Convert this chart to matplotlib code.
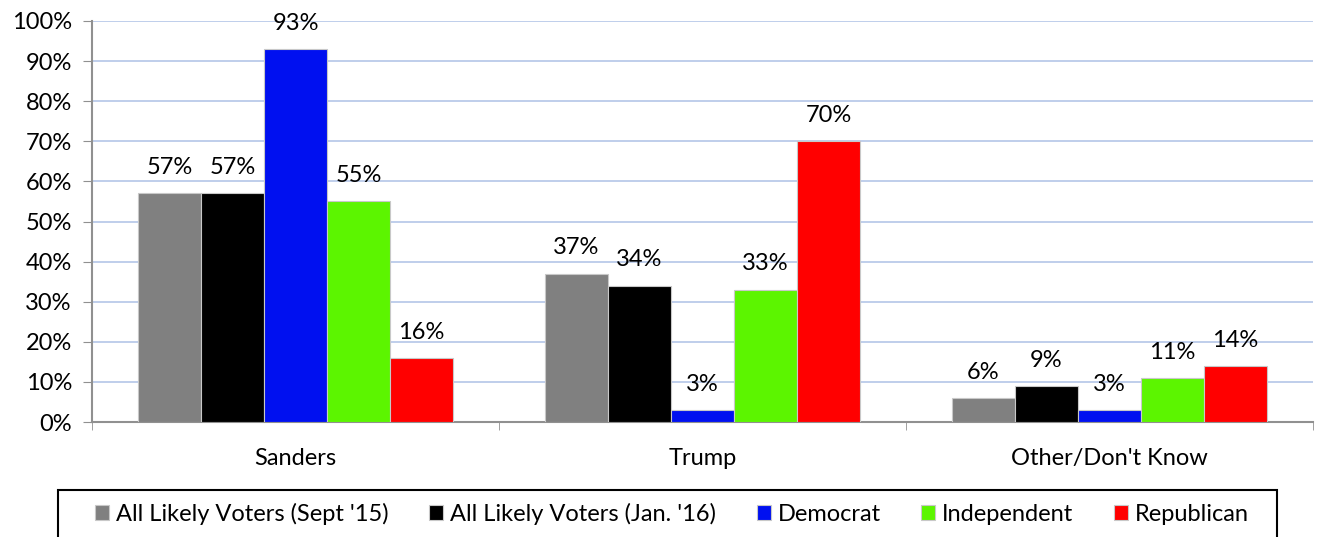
import numpy as np
import matplotlib.pyplot as plt
from matplotlib.patches import Rectangle
from matplotlib.ticker import PercentFormatter

plt.rcParams['font.family'] = ['Lato', 'DejaVu Sans']

candidates = ['Sanders', 'Trump', "Other/Don't Know"]
series_names = ["All Likely Voters (Sept '15)", "All Likely Voters (Jan. '16)",
                'Democrat', 'Independent', 'Republican']
sept15 = [57, 37, 6]
jan16 = [57, 34, 9]
democrat = [93, 3, 3]
independent = [55, 33, 11]
republican = [16, 70, 14]
colors = ['#808080', '#000000', '#0010f0', '#5cf500', '#ff0000']

values = [sept15, jan16, democrat, independent, republican]

fig = plt.figure(figsize=(13.17, 5.37), dpi=100)
ax = fig.add_axes([0.0699, 0.214, 0.927, 0.747])

x = np.arange(len(candidates))
width = 0.155
offsets = (np.arange(len(series_names)) - 2) * width

for vals, name, col, off in zip(values, series_names, colors, offsets):
    bars = ax.bar(x + off, vals, width, color=col, label=name,
                  edgecolor='#c8c8c8', linewidth=0.8, zorder=3)
    for b, v in zip(bars, vals):
        ax.annotate(f'{v}%', (b.get_x() + b.get_width() / 2, v),
                    xytext=(0, 11), textcoords='offset points',
                    ha='center', va='bottom', fontsize=17)

ax.set_ylim(0, 100)
ax.set_xlim(-0.5, len(candidates) - 0.5)
ax.set_yticks(range(0, 101, 10))
ax.yaxis.set_major_formatter(PercentFormatter(decimals=0))
ax.yaxis.grid(True, color='#b4c6e7', linewidth=1.2, zorder=0)
ax.set_axisbelow(True)

# category labels centred, ticks on group boundaries
ax.set_xticks(x)
ax.set_xticklabels(candidates, fontsize=17)
ax.tick_params(axis='x', length=0, pad=19)
ax.set_xticks(np.arange(len(candidates) + 1) - 0.5, minor=True)
ax.tick_params(axis='x', which='minor', length=6, color='#909090')
ax.tick_params(axis='y', labelsize=17, length=6.5, color='#909090', pad=8)

for side in ['top', 'right']:
    ax.spines[side].set_visible(False)
for side in ['left', 'bottom']:
    ax.spines[side].set_color('#909090')
    ax.spines[side].set_linewidth(1.5)

# legend box running off the bottom edge
fig.patches.append(Rectangle((58 / 1317, -0.05), 1219 / 1317, 0.05 + 47 / 537,
                             transform=fig.transFigure, fill=False,
                             edgecolor='black', linewidth=1.5))
fig.legend(loc='center', bbox_to_anchor=(672 / 1317, 23 / 537),
           ncol=5, fontsize=17, frameon=False,
           handlelength=0.6, handleheight=0.6, handletextpad=0.3,
           columnspacing=1.7, borderaxespad=0)

fig.savefig('out.png', dpi=100)
